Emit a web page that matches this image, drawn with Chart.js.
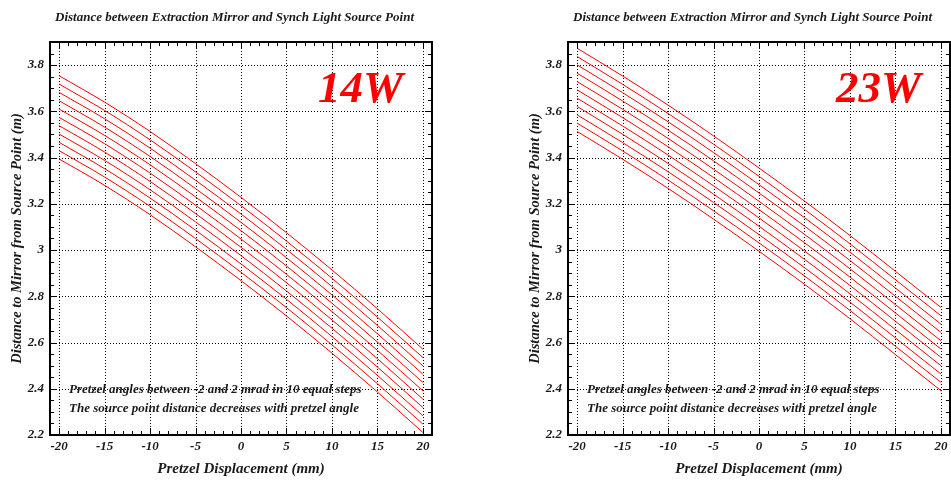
<!DOCTYPE html>
<html><head><meta charset="utf-8">
<script src="https://cdn.jsdelivr.net/npm/chart.js@4.4.0/dist/chart.umd.min.js"></script>
<style>
html,body{margin:0;padding:0;overflow:hidden;background:#fff;width:951px;height:481px}
.panel{position:absolute;top:0;width:470px;height:481px}
#p1{left:0}#p2{left:518px}
</style></head><body>
<div class="panel" id="p1"><canvas id="c1" width="470" height="481"></canvas></div>
<div class="panel" id="p2"><canvas id="c2" width="470" height="481"></canvas></div>
<script>
// ---- data ----
const displacementMm = [-20, -15, -10, -5, 0, 5, 10, 15, 20];
const pretzelAnglesMrad = [-2.0, -1.6, -1.2, -0.8, -0.4, 0.0, 0.4, 0.8, 1.2, 1.6, 2.0];
const xTickLabels = ['-20', '-15', '-10', '-5', '0', '5', '10', '15', '20'];
const yTickLabels = ['2.2', '2.4', '2.6', '2.8', '3', '3.2', '3.4', '3.6', '3.8'];
const panelLabels = ['14W', '23W'];
const chartTitle = 'Distance between Extraction Mirror and Synch Light Source Point';
const xAxisTitle = 'Pretzel Displacement (mm)';
const yAxisTitle = 'Distance to Mirror from Source Point (m)';
const noteLines = ['Pretzel angles between -2 and 2 mrad in 10 equal steps',
                   'The source point distance decreases with pretzel angle'];

// 14W: distance (m) per pretzel angle, sampled at displacementMm
const w14_m20 = [3.754, 3.640, 3.513, 3.374, 3.228, 3.075, 2.914, 2.746, 2.571];
const w14_m16 = [3.718, 3.604, 3.477, 3.338, 3.192, 3.039, 2.878, 2.710, 2.535];
const w14_m12 = [3.682, 3.568, 3.441, 3.302, 3.156, 3.003, 2.842, 2.674, 2.499];
const w14_m08 = [3.646, 3.532, 3.405, 3.266, 3.120, 2.967, 2.806, 2.638, 2.463];
const w14_m04 = [3.610, 3.496, 3.369, 3.230, 3.084, 2.931, 2.770, 2.602, 2.427];
const w14_p00 = [3.574, 3.460, 3.333, 3.194, 3.048, 2.895, 2.734, 2.566, 2.391];
const w14_p04 = [3.538, 3.424, 3.297, 3.158, 3.012, 2.859, 2.698, 2.530, 2.355];
const w14_p08 = [3.502, 3.388, 3.261, 3.122, 2.976, 2.823, 2.662, 2.494, 2.319];
const w14_p12 = [3.466, 3.352, 3.225, 3.086, 2.940, 2.787, 2.626, 2.458, 2.283];
const w14_p16 = [3.430, 3.316, 3.189, 3.050, 2.904, 2.751, 2.590, 2.422, 2.247];
const w14_p20 = [3.394, 3.280, 3.153, 3.014, 2.868, 2.715, 2.554, 2.386, 2.211];

// 23W
const w23_m20 = [3.873, 3.753, 3.627, 3.494, 3.355, 3.212, 3.063, 2.908, 2.752];
const w23_m16 = [3.837, 3.717, 3.591, 3.458, 3.319, 3.176, 3.027, 2.872, 2.716];
const w23_m12 = [3.801, 3.681, 3.555, 3.422, 3.283, 3.140, 2.991, 2.836, 2.680];
const w23_m08 = [3.765, 3.645, 3.519, 3.386, 3.247, 3.104, 2.955, 2.800, 2.644];
const w23_m04 = [3.729, 3.609, 3.483, 3.350, 3.211, 3.068, 2.919, 2.764, 2.608];
const w23_p00 = [3.693, 3.573, 3.447, 3.314, 3.175, 3.032, 2.883, 2.728, 2.572];
const w23_p04 = [3.657, 3.537, 3.411, 3.278, 3.139, 2.996, 2.847, 2.692, 2.536];
const w23_p08 = [3.621, 3.501, 3.375, 3.242, 3.103, 2.960, 2.811, 2.656, 2.500];
const w23_p12 = [3.585, 3.465, 3.339, 3.206, 3.067, 2.924, 2.775, 2.620, 2.464];
const w23_p16 = [3.549, 3.429, 3.303, 3.170, 3.031, 2.888, 2.739, 2.584, 2.428];
const w23_p20 = [3.513, 3.393, 3.267, 3.134, 2.995, 2.852, 2.703, 2.548, 2.392];

const series14 = [w14_m20, w14_m16, w14_m12, w14_m08, w14_m04, w14_p00, w14_p04, w14_p08, w14_p12, w14_p16, w14_p20];
const series23 = [w23_m20, w23_m16, w23_m12, w23_m08, w23_m04, w23_p00, w23_p04, w23_p08, w23_p12, w23_p16, w23_p20];

// ---- styling / drawing ----
const FAMILY = '"Liberation Serif", "Times New Roman", "DejaVu Serif", serif';

const framePlugin = {
  id: 'frameTicks',
  beforeDatasetsDraw(chart) {
    const {ctx, chartArea: a, scales: {x, y}} = chart;
    ctx.save();
    ctx.strokeStyle = '#000';
    ctx.lineWidth = 1;
    ctx.setLineDash([1, 2]);
    ctx.beginPath();
    for (const t of x.ticks) {
      const px = Math.round(x.getPixelForValue(t.value)) + 0.5;
      ctx.moveTo(px, a.top); ctx.lineTo(px, a.bottom);
    }
    for (const t of y.ticks) {
      const py = Math.round(y.getPixelForValue(t.value)) + 0.5;
      ctx.moveTo(a.left, py); ctx.lineTo(a.right, py);
    }
    ctx.stroke();
    ctx.restore();
  },
  afterDatasetsDraw(chart, args, opts) {
    const {ctx, chartArea: a, scales: {x, y}} = chart;
    ctx.save();
    ctx.strokeStyle = '#000';
    ctx.lineWidth = 1;
    ctx.beginPath();
    for (let v = Math.ceil(x.min); v <= Math.floor(x.max); v++) {
      const major = v % 5 === 0 && Math.abs(v) <= 20;
      const len = major ? 7 : 4;
      const px = Math.round(x.getPixelForValue(v)) + 0.5;
      ctx.moveTo(px, a.bottom); ctx.lineTo(px, a.bottom - len);
      ctx.moveTo(px, a.top); ctx.lineTo(px, a.top + len);
    }
    for (let i = Math.ceil(y.min / 0.05 - 1e-6); i * 0.05 <= y.max + 1e-6; i++) {
      const major = i % 4 === 0;
      const len = major ? 7 : 4;
      const py = Math.round(y.getPixelForValue(i * 0.05)) + 0.5;
      ctx.moveTo(a.left, py); ctx.lineTo(a.left + len, py);
      ctx.moveTo(a.right, py); ctx.lineTo(a.right - len, py);
    }
    ctx.stroke();
    ctx.lineWidth = 2;
    ctx.strokeRect(a.left, a.top, a.right - a.left, a.bottom - a.top);

    // title (centred on the panel)
    ctx.fillStyle = '#1a1a1a';
    ctx.font = 'italic bold 13px ' + FAMILY;
    ctx.textAlign = 'center';
    ctx.textBaseline = 'middle';
    ctx.fillText(chartTitle, 234.5, 17.3);

    ctx.textAlign = 'left';
    ctx.textBaseline = 'alphabetic';
    ctx.fillText(noteLines[0], a.left + 19, a.bottom - 42);
    ctx.fillText(noteLines[1], a.left + 19, a.bottom - 23.5);

    ctx.fillStyle = '#ff0000';
    ctx.font = 'italic bold 45px ' + FAMILY;
    ctx.textAlign = 'right';
    ctx.fillText(opts.label, a.right - 29, a.top + 60);
    ctx.restore();
  }
};

function makeChart(canvasId, series, label) {
  const datasets = series.map((vals, k) => ({
    label: pretzelAnglesMrad[k] + ' mrad',
    data: displacementMm.map((xv, i) => ({x: xv, y: vals[i]})),
    borderColor: '#ff0000',
    borderWidth: 1,
    pointRadius: 0,
    fill: false,
    tension: 0.4,
    cubicInterpolationMode: 'monotone'
  }));
  return new Chart(document.getElementById(canvasId), {
    type: 'line',
    data: {datasets},
    options: {
      responsive: false,
      devicePixelRatio: 1,
      animation: false,
      layout: {padding: {left: 0, right: 38, top: 42, bottom: 0}},
      plugins: {
        legend: {display: false},
        tooltip: {enabled: false},
        title: {display: false},
        frameTicks: {label}
      },
      scales: {
        x: {
          type: 'linear',
          min: -21, max: 21,
          afterFit(s) { s.height = 46; },
          grid: {display: false, drawTicks: false},
          border: {display: false},
          ticks: {
            stepSize: 5,
            includeBounds: false,
            padding: 3.5,
            maxRotation: 0,
            autoSkip: false,
            color: '#1a1a1a',
            font: {family: FAMILY, size: 13, style: 'italic', weight: 'bold'},
            callback: (v, i) => xTickLabels[i] !== undefined ? xTickLabels[i] : String(v)
          },
          title: {
            display: true,
            text: xAxisTitle,
            color: '#1a1a1a',
            font: {family: FAMILY, size: 15, style: 'italic', weight: 'bold'},
            padding: {top: 0, bottom: 3}
          }
        },
        y: {
          type: 'linear',
          min: 2.2, max: 3.9,
          afterFit(s) { s.width = 50; },
          grid: {display: false, drawTicks: false},
          border: {display: false},
          ticks: {
            stepSize: 0.2,
            includeBounds: false,
            padding: 6,
            autoSkip: false,
            color: '#1a1a1a',
            font: {family: FAMILY, size: 13, style: 'italic', weight: 'bold'},
            callback: (v, i) => yTickLabels[i] !== undefined ? yTickLabels[i] : String(v)
          },
          title: {
            display: true,
            text: yAxisTitle,
            color: '#1a1a1a',
            font: {family: FAMILY, size: 14.5, style: 'italic', weight: 'bold'},
            padding: {top: 8.3, bottom: 0}
          }
        }
      }
    },
    plugins: [framePlugin]
  });
}

makeChart('c1', series14, panelLabels[0]);
makeChart('c2', series23, panelLabels[1]);
</script>
</body></html>
